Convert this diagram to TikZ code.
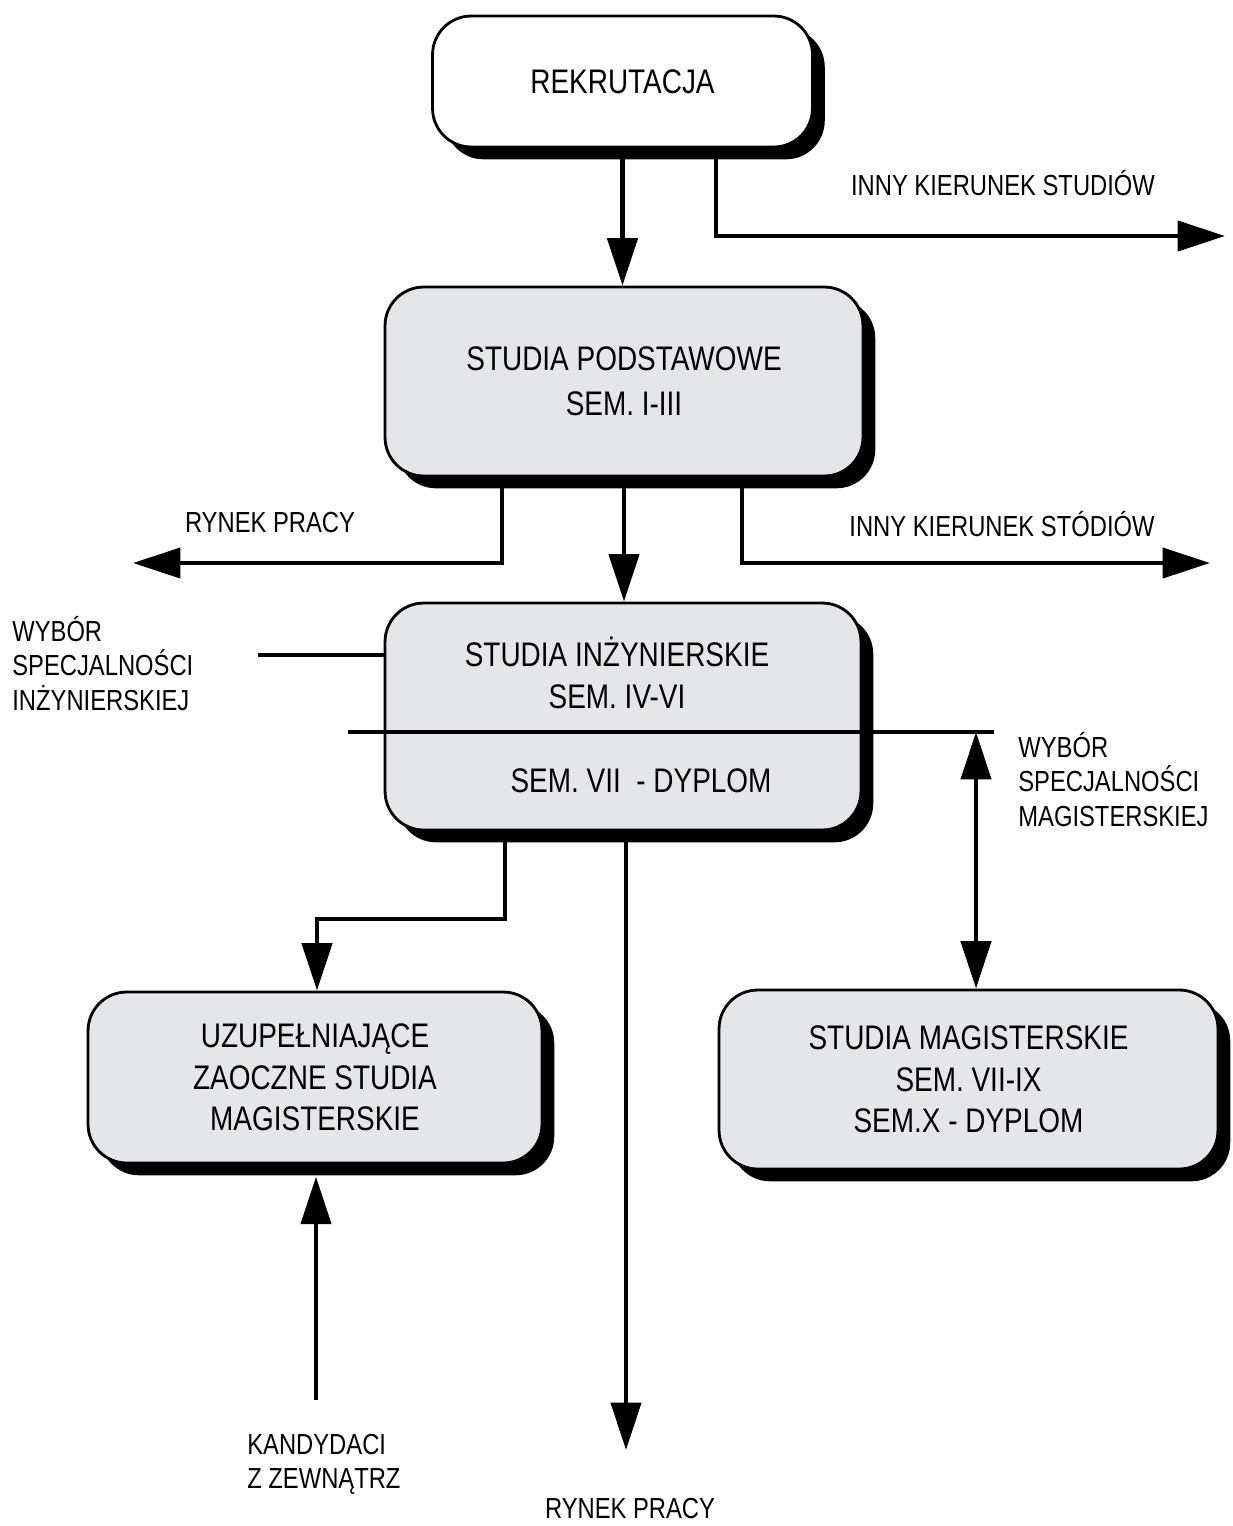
\documentclass[tikz,border=0pt]{standalone}
\usepackage{fontspec}
\setmainfont{Liberation Sans}[FakeStretch=0.82]
\usetikzlibrary{arrows.meta, shadows}
\definecolor{boxgray}{RGB}{229,230,232}
\newcommand{\boxfont}{\fontsize{19.4}{23.6}\selectfont}
\newcommand{\lblfont}{\fontsize{16.5}{19.5}\selectfont}

\begin{document}
\begin{tikzpicture}[x=0.02cm, y=-0.02cm,
  >={Triangle[length=27pt, width=17pt]},
  box/.style={draw, line width=1.6pt, rounded corners=22pt, fill=boxgray,
    align=center, font=\boxfont,
    drop shadow={opacity=1, fill=black, shadow xshift=7pt, shadow yshift=-7pt}},
  txt/.style={font=\boxfont, align=center, inner sep=0pt},
  lbl/.style={font=\lblfont, align=left, inner sep=0pt},
  conn/.style={line width=2.7pt}]
  \useasboundingbox (0,0) rectangle (1232,1526);
  % the five stages
  \node[box, fill=white, minimum width=7.6cm, minimum height=2.62cm] (rek) at (622.5,81.5) {REKRUTACJA};
  \node[box, minimum width=9.56cm, minimum height=3.78cm] (pods) at (624,381.5) {STUDIA PODSTAWOWE\\[2pt]SEM. I-III};
  \node[box, minimum width=9.52cm, minimum height=4.54cm] (inz) at (623,716.5) {};
  \node[txt, anchor=north] (inzA) at (617,637) {STUDIA INŻYNIERSKIE\\SEM. IV-VI};
  \node[txt, anchor=base] (inzB) at (641,792) {SEM. VII\ \ - DYPLOM};
  \node[box, minimum width=9.08cm, minimum height=3.42cm] (uzu) at (315,1077.5) {UZUPEŁNIAJĄCE\\ZAOCZNE STUDIA\\MAGISTERSKIE};
  \node[box, minimum width=9.98cm, minimum height=3.58cm] (mag) at (968.5,1079.5) {STUDIA MAGISTERSKIE\\SEM. VII-IX\\SEM.X - DYPLOM};
  % side labels
  \node[lbl, anchor=base] (innyS) at (1003,195) {INNY KIERUNEK STUDIÓW};
  \node[lbl, anchor=base] (rynekA) at (270,532) {RYNEK PRACY};
  \node[lbl, anchor=base] (innyP) at (1002,536) {INNY KIERUNEK STÓDIÓW};
  \node[lbl, anchor=north west] (wybI) at (12,616) {WYBÓR\\SPECJALNOŚCI\\INŻYNIERSKIEJ};
  \node[lbl, anchor=north west] (wybM) at (1018,732) {WYBÓR\\SPECJALNOŚCI\\MAGISTERSKIEJ};
  \node[lbl, anchor=north west] (kand) at (247,1434) {KANDYDACI\\Z ZEWNĄTRZ};
  \node[lbl, anchor=base] (rynekB) at (630,1518) {RYNEK PRACY};
  % free ends and bends
  \coordinate (innyK) at (716,236);
  \coordinate (innyE) at (1225,236);
  \coordinate (rpK) at (502,563);
  \coordinate (rpE) at (133,563);
  \coordinate (ikK) at (742,563);
  \coordinate (ikE) at (1210,563);
  \coordinate (selI) at (258,655);
  \coordinate (divL) at (348,732);
  \coordinate (divR) at (994,732);
  \coordinate (selM) at (976,732);
  \coordinate (uzK) at (505,919);
  \coordinate (uzE) at (317,919);
  \coordinate (rynekK) at (626,1450);
  \coordinate (kandK) at (316,1400);
  % connectors
  \draw[conn, ->] (rek.south) -- (rek.south |- pods.north);
  \draw[conn, ->] (innyK |- rek.south) -- (innyK) -- (innyE);
  \draw[conn, ->] (pods.south) -- (pods.south |- inz.north);
  \draw[conn, ->] (rpK |- pods.south) -- (rpK) -- (rpE);
  \draw[conn, ->] (ikK |- pods.south) -- (ikK) -- (ikE);
  \draw[conn] (selI) -- (selI -| inz.west);
  \draw[conn] (divL) -- (divR);
  \draw[conn, <->] (selM) -- (selM |- mag.north);
  \draw[conn, ->] (uzK |- inz.south) -- (uzK) -- (uzE) -- (uzE |- uzu.north);
  \draw[conn, ->] (rynekK |- inz.south) -- (rynekK);
  \draw[conn, ->, shorten >=7pt] (kandK) -- (kandK |- uzu.south);
\end{tikzpicture}
\end{document}
